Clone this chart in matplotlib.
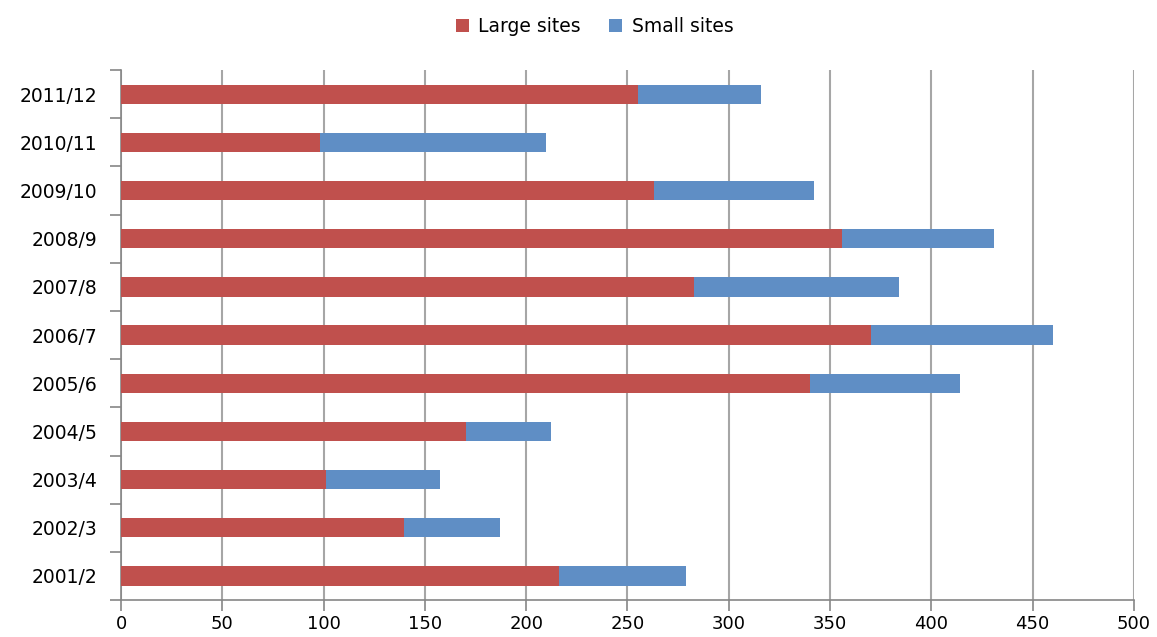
import matplotlib
matplotlib.use("Agg")
import matplotlib.pyplot as plt
import numpy as np

categories = ['2001/2', '2002/3', '2003/4', '2004/5', '2005/6', '2006/7',
              '2007/8', '2008/9', '2009/10', '2010/11', '2011/12']
large_sites = [216, 139.5, 101, 170.5, 340, 370, 283, 356, 263, 98, 255]
small_sites = [63, 47.5, 56.5, 41.5, 74, 90, 101, 75, 79, 112, 61]
x_ticks = [0, 50, 100, 150, 200, 250, 300, 350, 400, 450, 500]

red = '#C0504D'
blue = '#5F8EC5'
grid_col = '#A6A6A6'

plt.rcParams['font.family'] = ['DejaVu Sans']

fig = plt.figure(figsize=(11.57, 6.37), dpi=100)
ax = fig.add_axes([0.1046, 0.058, 0.8755, 0.832])

y = np.arange(len(categories))
ax.barh(y, large_sites, height=0.4, color=red, label='Large sites', zorder=3)
ax.barh(y, small_sites, left=large_sites, height=0.4, color=blue,
        label='Small sites', zorder=3)

ax.set_xlim(0, 500)
ax.set_ylim(-0.5, len(categories) - 0.5)
ax.set_xticks(x_ticks)
ax.set_xticklabels([str(v) for v in x_ticks], fontsize=13)
ax.set_yticks(y)
ax.set_yticklabels(categories, fontsize=13.5)
ax.set_yticks(np.arange(-0.5, len(categories), 1.0), minor=True)

ax.tick_params(axis='y', which='major', length=0, pad=17)
ax.tick_params(axis='y', which='minor', length=8, color='#868686', width=1.2, direction='out')
ax.tick_params(axis='x', which='major', length=8, color='#868686', width=1.2,
               direction='out', pad=3)

ax.grid(axis='x', color=grid_col, linewidth=1.5, zorder=0)
ax.set_axisbelow(True)
for s in ['top', 'right']:
    ax.spines[s].set_visible(False)
for s in ['left', 'bottom']:
    ax.spines[s].set_color('#868686')
    ax.spines[s].set_linewidth(1.2)

fig.legend(loc='upper center', bbox_to_anchor=(0.514, 1.0), ncol=2, frameon=False,
           fontsize=13.5, handlelength=0.7, handleheight=0.7, columnspacing=1.5,
           handletextpad=0.5)

fig.savefig('out.png', dpi=100)
